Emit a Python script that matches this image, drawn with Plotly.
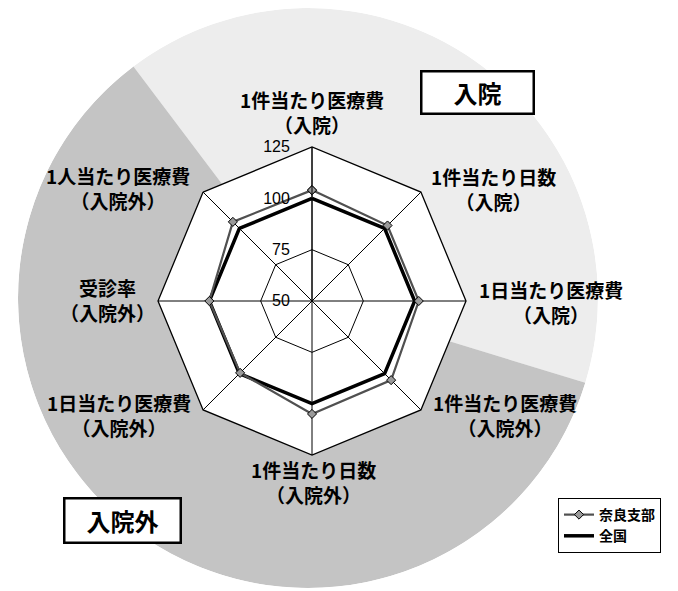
import plotly.graph_objects as go

W, H = 678, 591
OFF = 8  # page margin of the browser

# 項目（上から時計回り）
items = ["1件当たり医療費", "1件当たり日数", "1日当たり医療費", "1件当たり医療費",
         "1件当たり日数", "1日当たり医療費", "受診率", "1人当たり医療費"]
groups = ["入院", "入院", "入院", "入院外", "入院外", "入院外", "入院外", "入院外"]
nara = [104, 102, 102, 104.5, 105, 99.5, 100, 104.5]
zenkoku = [100, 100, 100, 100, 100, 100, 100, 100]
radial_ticks = [50, 75, 100, 125]

# 背景の円（入院・入院外）
share_labels = ["入院", "入院外"]
share_values = [40, 60]
share_colors = ["#ededed", "#c4c4c4"]

# ラベル位置（ピクセル）
label_pos = [(312, 112), (493, 189), (551, 302), (505, 415),
             (313, 482), (119, 415), (107, 300), (118, 188)]
box_pos = {"入院": (477, 93, 110, 40), "入院外": (122, 520, 114, 42)}


def px(x, y):
    return (x - OFF) / W, 1 - (y - OFF) / H


theta = [f"{i}（{g}）" for i, g in zip(items, groups)]

fig = go.Figure()

# background sectors as barpolar
start = 0
for lab, v, c in zip(share_labels, share_values, share_colors):
    width = v * 3.6
    fig.add_trace(go.Barpolar(
        r=[1], theta=[start + width / 2], width=[width],
        marker=dict(color=c, line=dict(width=0)),
        subplot="polar", showlegend=False, hoverinfo="skip", name=lab,
    ))
    start += width

fig.add_trace(go.Scatterpolar(
    r=zenkoku + [zenkoku[0]], theta=theta + [theta[0]],
    mode="lines", name="全国", legendrank=2,
    line=dict(color="black", width=3.5),
    subplot="polar2",
))
fig.add_trace(go.Scatterpolar(
    r=nara + [nara[0]], theta=theta + [theta[0]],
    mode="lines+markers", name="奈良支部", legendrank=1,
    line=dict(color="#505050", width=2.2),
    marker=dict(symbol="diamond", size=7, color="#9a9a9a",
                line=dict(color="black", width=1)),
    subplot="polar2",
))

bx0, by1 = px(18, 8)
bx1, by0 = px(598, 588)
rx0, ry1 = px(158, 147)
rx1, ry0 = px(466, 455)

annotations = []
for (x, y), i, g in zip(label_pos, items, groups):
    ax, ay = px(x, y)
    annotations.append(dict(
        x=ax, y=ay, xref="paper", yref="paper", showarrow=False,
        xanchor="center", yanchor="middle",
        text=f"{i}<br>（{g}）", align="center",
        font=dict(family="Noto Sans CJK JP", size=19, color="black", weight="bold"),
    ))
for txt, (x, y, w, h) in box_pos.items():
    ax, ay = px(x, y)
    annotations.append(dict(
        x=ax, y=ay, xref="paper", yref="paper", showarrow=False,
        xanchor="center", yanchor="middle",
        text=txt, width=w, height=h, borderpad=0,
        bordercolor="black", borderwidth=2.5, bgcolor="white",
        font=dict(family="Noto Sans CJK JP", size=24, color="black", weight="bold"),
    ))

fig.update_layout(
    width=W, height=H,
    margin=dict(l=0, r=0, t=0, b=0),
    paper_bgcolor="white",
    font=dict(family="Noto Sans CJK JP", color="black"),
    polar=dict(
        domain=dict(x=[bx0, bx1], y=[by0, by1]),
        bgcolor="rgba(0,0,0,0)",
        angularaxis=dict(rotation=127, direction="clockwise", visible=False),
        radialaxis=dict(range=[0, 1], visible=False),
    ),
    polar2=dict(
        domain=dict(x=[rx0, rx1], y=[ry0, ry1]),
        bgcolor="white",
        gridshape="linear",
        angularaxis=dict(
            rotation=90, direction="clockwise", type="category",
            showticklabels=False, ticks="",
            showline=True, linecolor="black", linewidth=1.3,
            gridcolor="black", gridwidth=1,
        ),
        radialaxis=dict(
            range=[50, 125], tickvals=radial_ticks,
            angle=90, tickangle=90, side="counterclockwise",
            showline=True, linecolor="black", linewidth=1,
            gridcolor="black", gridwidth=1,
            ticks="outside", ticklen=16, tickcolor="rgba(0,0,0,0)",
            tickfont=dict(family="Liberation Sans", size=16, color="black"),
        ),
    ),
    showlegend=True,
    legend=dict(
        x=(558 - OFF) / W, y=1 - (498 - OFF) / H, xanchor="left", yanchor="top",
        bgcolor="white", bordercolor="black", borderwidth=1,
        font=dict(family="Noto Sans CJK JP", size=14, color="black", weight="bold"),
        tracegroupgap=0, itemwidth=30,
    ),
    annotations=annotations,
)

fig.write_html("out.html")
